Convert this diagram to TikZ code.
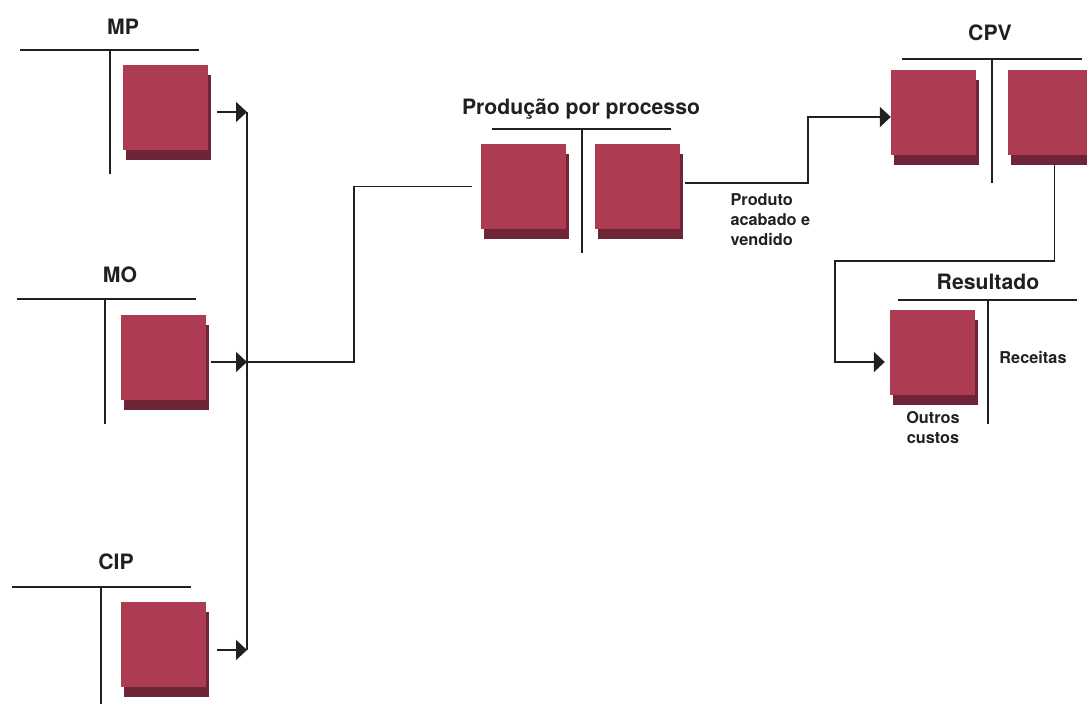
\documentclass[tikz,border=0pt]{standalone}
\usepackage{fontspec}
\setmainfont{TeX Gyre Heros}
\usetikzlibrary{arrows.meta,shadows,positioning}
\definecolor{boxred}{HTML}{AD3B51}
\definecolor{boxshadow}{HTML}{6E2538}
\definecolor{linegray}{HTML}{231F20}
\begin{document}
\begin{tikzpicture}[x=1pt,y=-1pt,font=\bfseries]

    % Define styles
    \tikzstyle{account_block} = [fill=boxred, minimum size=85pt, inner sep=0pt, drop shadow={shadow xshift=3pt, shadow yshift=-10pt, fill=boxshadow, opacity=1}]
    \tikzstyle{title_text} = [font=\bfseries\fontsize{21.2}{25}\selectfont, text=linegray]
    \tikzstyle{small_text} = [font=\bfseries\fontsize{16.3}{20}\selectfont, text=linegray]
    \tikzstyle{t_line} = [linegray, line width=1.5pt]
    \tikzstyle{flow} = [-{Triangle[length=11pt,width=20pt]}, linegray, line width=1.5pt]

    \useasboundingbox (0,0) rectangle (1087,704);

    % Draw account blocks
    \node [account_block] (mp) at (165.5,107.5) {};
    \node [account_block] (mo) at (163.5,357.5) {};
    \node [account_block] (cip) at (163.5,644.5) {};
    \node [account_block] (prod_left) at (523.5,186.5) {};
    \node [account_block, right=29pt of prod_left] (prod_right) {};
    \node [account_block] (cpv_left) at (933.5,112.5) {};
    \node [account_block, right=32pt of cpv_left] (cpv_right) {};
    \node [account_block] (res) at (932.5,352.5) {};

    % Titles and labels
    \node [title_text] (mp_title) at (123,27) {MP};
    \node [title_text] (mo_title) at (120,275) {MO};
    \node [title_text] (cip_title) at (116,562) {CIP};
    \node [title_text] (prod_title) at (581,109) {Produção por processo};
    \node [title_text] (cpv_title) at (990,33) {CPV};
    \node [title_text] (res_title) at (988,282) {Resultado};
    \node [small_text, anchor=west, align=left] (prod_label) at (727,220) {Produto\\acabado e\\vendido};
    \node [small_text, align=center] (res_debit) at (933,428) {Outros\\custos};
    \node [small_text] (res_credit) at (1033,357) {Receitas};

    % Draw T accounts
    \draw [t_line] (20,50) -- (199,50);
    \draw [t_line] (110,50) -- (110,174);
    \draw [t_line] (17,299) -- (196,299);
    \draw [t_line] (105,299) -- (105,424);
    \draw [t_line] (12,587) -- (191,587);
    \draw [t_line] (101,587) -- (101,710);
    \draw [t_line] (492,129) -- (671,129);
    \draw [t_line] (582,129) -- (582,253);
    \draw [t_line] (902,59) -- (1082,59);
    \draw [t_line] (992,59) -- (992,183);
    \draw [t_line] (898,300) -- (1077,300);
    \draw [t_line] (988,300) -- (988,424);

    % Draw arrows
    \coordinate (j_mp) at (247,112);
    \coordinate (j_mo) at (247,362);
    \coordinate (j_cip) at (247,650);
    \coordinate (bend_cpv) at (808,117);
    \coordinate (bend_res) at (835,261);

    \draw [t_line] (j_mp) -- (j_cip);
    \draw [flow] ([xshift=9pt]j_mp -| mp.east) -- (j_mp);
    \draw [flow] ([xshift=5pt]j_mo -| mo.east) -- (j_mo);
    \draw [flow] ([xshift=11pt]j_cip -| cip.east) -- (j_cip);

    \draw [t_line] (j_mo) -- ++(107,0) |- ([xshift=-9pt]prod_left.west);
    \draw [flow] ([xshift=4pt,yshift=3.5pt]prod_right.east) -| (bend_cpv) -- (bend_cpv -| cpv_left.west);
    \draw [flow] ([xshift=3.5pt,yshift=-10pt]cpv_right.south) |- (bend_res) |- ([xshift=-5pt,yshift=-9.5pt]res.west);

\end{tikzpicture}
\end{document}
